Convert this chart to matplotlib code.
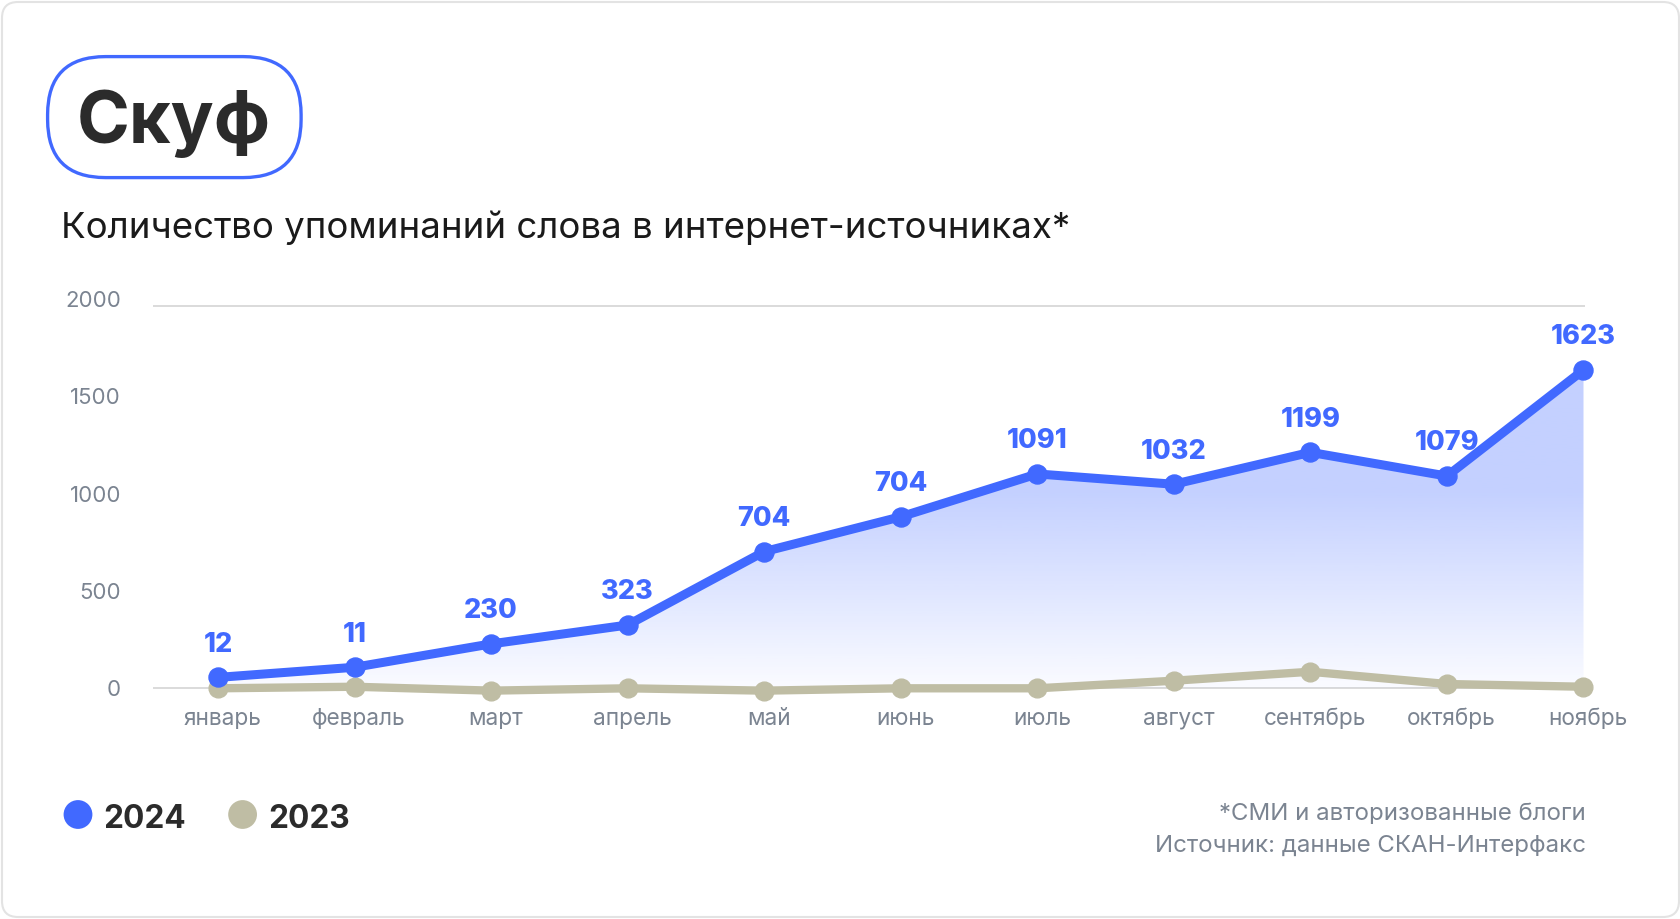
import numpy as np
import matplotlib
matplotlib.use("Agg")
import matplotlib.pyplot as plt
import matplotlib.transforms as mtransforms
from matplotlib.patches import FancyBboxPatch, Polygon
from matplotlib.colors import to_rgb

# ---------------- data ----------------
months = ["январь", "февраль", "март", "апрель", "май", "июнь",
          "июль", "август", "сентябрь", "октябрь", "ноябрь"]
values_2024 = [56, 108, 228, 325, 702, 881, 1101, 1048, 1212, 1090, 1635]
labels_2024 = ["12", "11", "230", "323", "704", "704", "1091", "1032", "1199", "1079", "1623"]
values_2023 = [0, 8, -12, 0, -12, 0, 0, 39, 85, 22, 8]
y_ticks = [0, 500, 1000, 1500, 2000]
series_names = ["2024", "2023"]
title = "Скуф"
subtitle = "Количество упоминаний слова в интернет-источниках*"
footnotes = ["*СМИ и авторизованные блоги", "Источник: данные СКАН-Интерфакс"]

# ---------------- style ----------------
BLUE = "#4169FF"
GRAY = "#BFBDA4"
TXT = "#2B2B2B"
MUTED = "#7B8491"
FONT = ["Inter", "DejaVu Sans"]
plt.rcParams["font.family"] = FONT

W, H, DPI = 1681, 919, 100
fig = plt.figure(figsize=(W / DPI, H / DPI), dpi=DPI)
fig.patch.set_facecolor("white")

bg = fig.add_axes([0, 0, 1, 1], zorder=0)
bg.set_xlim(0, W)
bg.set_ylim(H, 0)
bg.axis("off")

# card border
bg.add_patch(FancyBboxPatch((2, 2), W - 4, H - 4,
                            boxstyle="round,pad=0,rounding_size=16",
                            facecolor="white", edgecolor="#E3E3E3", lw=1.5))
# title pill
bg.add_patch(FancyBboxPatch((47.6, 56.6), 253.5, 121,
                            boxstyle="round,pad=0,rounding_size=58",
                            facecolor="white", edgecolor=BLUE, lw=2.4))
bg.text(173.5, 143, title, ha="center", va="baseline", fontsize=51.5,
        fontweight="bold", color=TXT)
bg.text(61, 238, subtitle, ha="left", va="baseline", fontsize=26.4,
        color="#1A1A1A")

# legend
leg_x = [78, 242.6]
for xx, name, col in zip(leg_x, series_names, [BLUE, GRAY]):
    bg.scatter([xx], [814.5], s=430, color=col, edgecolors="none")
    bg.text(xx + 25.5, 828, name, ha="left", va="baseline", fontsize=22.8,
            fontweight="bold", color=TXT)

# footnotes
for i, line in enumerate(footnotes):
    bg.text(1586, 820 + i * 32, line, ha="right", va="baseline",
            fontsize=17.3, color=MUTED)

# ---------------- chart ----------------
def px_box(l, t, r, b):
    return [l / W, 1 - b / H, (r - l) / W, (b - t) / H]

ax = fig.add_axes(px_box(153, 290, 1585, 700), zorder=1)
ax.patch.set_alpha(0)
x = np.arange(len(months))
ppu = 0.1947  # px per unit
zero_px = 688.3
xlim = (-(218 - 153) / 136.55, (1585 - 218) / 136.55)
ylim = (-(700 - zero_px) / ppu, (zero_px - 290) / ppu)

# gridlines: baseline and top line
ax.axhline(0, color="#DADADA", lw=1.4, zorder=0.5)
ax.axhline((zero_px - 305.7) / ppu, color="#DADADA", lw=1.4, zorder=0.5)

# gradient fill under 2024 line
verts = [(x[0], 0)] + list(zip(x, values_2024)) + [(x[-1], 0)]
clip = Polygon(verts, closed=True, facecolor="none", edgecolor="none")
ax.add_patch(clip)
vmax = max(values_2024)
gv = np.linspace(0, vmax, 400)
img = np.zeros((400, 1, 4))
img[..., :3] = to_rgb(BLUE)
img[:, 0, 3] = 0.025 + 0.285 * np.clip(gv / 1000, 0, 1)
im = ax.imshow(img, extent=[x[0], x[-1], 0, vmax], origin="lower",
               aspect="auto", zorder=1, interpolation="bilinear")
im.set_clip_path(clip)

ax.plot(x, values_2023, color=GRAY, lw=6, marker="o", ms=13.5,
        solid_capstyle="round", zorder=2, clip_on=False)
ax.plot(x, values_2024, color=BLUE, lw=6.5, marker="o", ms=13.7,
        solid_capstyle="round", zorder=3, clip_on=False)

for xi, v, lab in zip(x, values_2024, labels_2024):
    ax.annotate(lab, (xi, v), xytext=(0, 23.5), textcoords="offset points",
                ha="center", va="center", fontsize=19.5, fontweight=800,
                color=BLUE, zorder=4)

ax.set_xlim(*xlim)
ax.set_ylim(*ylim)
ax.set_yticks(y_ticks)
ax.set_yticklabels([str(t) for t in y_ticks])
ax.set_xticks(x)
ax.set_xticklabels(months)
ax.tick_params(axis="y", length=0, pad=23, labelsize=16, labelcolor=MUTED)
ax.tick_params(axis="x", length=0, pad=5.5, labelsize=16.3, labelcolor=MUTED)
shift = mtransforms.ScaledTranslation(4.5 / DPI, 0, fig.dpi_scale_trans)
for lbl in ax.get_xticklabels():
    lbl.set_transform(lbl.get_transform() + shift)
for s in ax.spines.values():
    s.set_visible(False)

fig.savefig("out.png", dpi=DPI, facecolor="white")
